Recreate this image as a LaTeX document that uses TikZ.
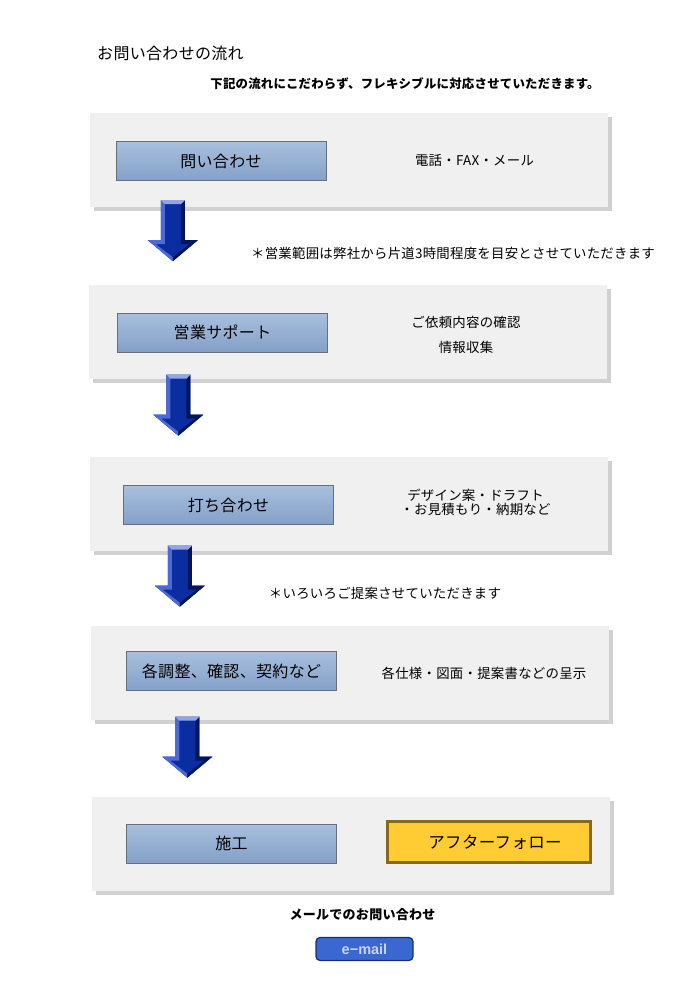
\documentclass[tikz,border=0pt]{standalone}
\usepackage{fontspec}
\setmainfont{Noto Sans CJK JP}[LetterSpace=2]
\newfontfamily\mailfont{Liberation Sans}
\usepackage{tikz}
\usetikzlibrary{calc,backgrounds,shadows}
\definecolor{panelgray}{RGB}{240,240,240}
\definecolor{btntop}{RGB}{168,192,222}
\definecolor{btnbottom}{RGB}{132,160,200}
\definecolor{btnedge}{RGB}{105,110,120}
\definecolor{arrowlight}{RGB}{75,105,215}
\definecolor{arrowmid}{RGB}{10,45,160}
\definecolor{arrowdark}{RGB}{0,20,90}
\definecolor{followfill}{RGB}{255,204,51}
\definecolor{followedge}{RGB}{135,105,25}
\definecolor{mailfill}{RGB}{58,104,208}
\definecolor{mailedge}{RGB}{25,45,125}
\definecolor{mailtext}{RGB}{200,212,240}

\begin{document}
\begin{tikzpicture}[x=1pt,y=-1pt,
panel/.style={fill=panelgray,minimum width=518,minimum height=94,inner sep=0,
  drop shadow={shadow xshift=4pt,shadow yshift=-4pt,fill=black!18,opacity=1}},
btn/.style={draw=btnedge,line width=1pt,top color=btntop,bottom color=btnbottom,
  minimum width=210,minimum height=39,inner sep=0,font=\fontsize{16}{18}\selectfont},
note/.style={font=\fontsize{13.4}{14}\selectfont,align=center,inner sep=0},
flowarr/.pic={
  \fill[arrowmid] (-12,0) -- (12,0) -- (12,40) -- (25,40) -- (0,61) -- (-25,40) -- (-12,40) -- cycle;
  \fill[arrowlight] (-12,0) -- (-8,4) -- (-8,44) -- (-17,44) -- (0,57) -- (0,61) -- (-25,40) -- (-12,40) -- cycle;
  \fill[arrowdark] (12,0) -- (8,4) -- (8,44) -- (17,44) -- (0,57) -- (0,61) -- (25,40) -- (12,40) -- cycle;
  \fill[arrowlight!60!white] (-12,0) -- (12,0) -- (8,4) -- (-8,4) -- cycle;}]
\fill[white] (0,0) rectangle (700,1000);
\useasboundingbox (0,0) rectangle (700,1000);

\node[anchor=west,inner sep=0,font=\fontsize{16}{18}\selectfont] (title) at (97,53) {お問い合わせの流れ};
\node[inner sep=0,font=\fontsize{12.4}{14}\selectfont\bfseries] (intro) at (405,84) {下記の流れにこだわらず、フレキシブルに対応させていただきます。};

\node[panel] (p1) at (349,160) {};
\node[panel] (p2) at (347.5,331.5) {};
\node[panel] (p3) at (349,503.5) {};
\node[panel] (p4) at (349.5,672.5) {};
\node[panel] (p5) at (351,844) {};

\pic at ($(p1.south west)+(83,-7)$) {flowarr};
\pic at ($(p2.south west)+(90,-4)$) {flowarr};
\pic at ($(p3.south west)+(90,-5)$) {flowarr};
\pic at ($(p4.south west)+(97,-3)$) {flowarr};

\node[btn] (b1) at (221,161.5) {問い合わせ\hspace{14pt}};
\node[btn] (b2) at (222.5,332.5) {営業サポート};
\node[btn] (b3) at (228.5,505) {打ち合わせ\hspace{10pt}};
\node[btn] (b4) at (231.5,671) {各調整、確認、契約など};
\node[btn] (b5) at (231.5,843.5) {施工\hspace{20pt}};
\node[draw=followedge,line width=3pt,fill=followfill,minimum width=203,minimum height=41,inner sep=0,
  font=\fontsize{16.5}{18}\selectfont] (follow) at (489,842) {\hspace{12pt}アフターフォロー};

\node[note] (n1) at (474.5,161) {電話・FAX・メール};
\node[note,font=\fontsize{13.4}{25}\selectfont] (n2) at (466,334.5) {ご依頼内容の確認\\情報収集};
\node[note] (n3) at (475.5,502) {デザイン案・ドラフト\\・お見積もり・納期など};
\node[note] (n4) at (484,673) {各仕様・図面・提案書などの呈示};
\node[note] (r1) at (453,253) {＊営業範囲は弊社から片道3時間程度を目安とさせていただきます};
\node[note] (r2) at (385,593) {＊いろいろご提案させていただきます};

\node[inner sep=0,font=\fontsize{13}{14}\selectfont\bfseries] (mail) at (362.5,915) {メールでのお問い合わせ};
\node[draw=mailedge,line width=1.2pt,fill=mailfill,rounded corners=4pt,minimum width=97,minimum height=23,
  inner sep=0,text=mailtext,font=\mailfont\fontsize{14.5}{15}\selectfont\bfseries] (email) at (364.5,949) {e−mail};
\end{tikzpicture}
\end{document}
